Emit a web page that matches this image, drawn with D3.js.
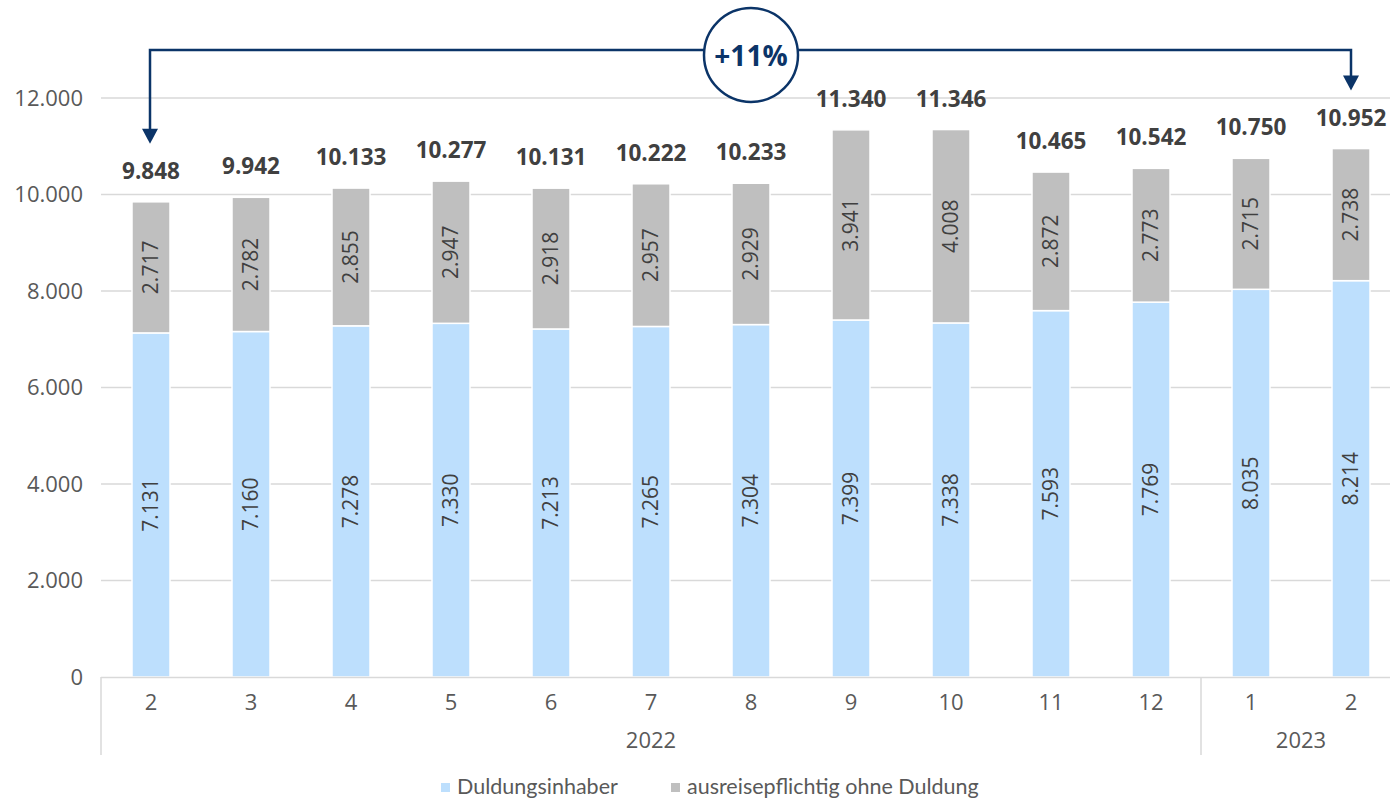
<!DOCTYPE html>
<html><head><meta charset="utf-8">
<script src="https://cdn.jsdelivr.net/npm/d3@7"></script>
<style>html,body{margin:0;padding:0;background:#fff;overflow:hidden}</style>
</head><body><svg id="c" width="1390" height="799"></svg>
<script>
const months = ["2","3","4","5","6","7","8","9","10","11","12","1","2"];
const years = [{label:"2022", from:0, to:10},{label:"2023", from:11, to:12}];
const duldung = [7131,7160,7278,7330,7213,7265,7304,7399,7338,7593,7769,8035,8214];
const ohne = [2717,2782,2855,2947,2918,2957,2929,3941,4008,2872,2773,2715,2738];
const totals = [9848,9942,10133,10277,10131,10222,10233,11340,11346,10465,10542,10750,10952];
const yTicks = [0,2000,4000,6000,8000,10000,12000];
const seriesNames = ["Duldungsinhaber","ausreisepflichtig ohne Duldung"];
const colors = ["#BDDFFD","#BFBFBF"];
const changeLabel = "+11%";

const fmt = v => d3.format(",")(v).replace(/,/g,".");
const svg = d3.select("#c");
const font = "'Open Sans', sans-serif";
const x = d3.scaleBand().domain(d3.range(months.length)).range([101,1401]).paddingInner(0.62).paddingOuter(0.31);
const y = d3.scaleLinear().domain([0,12000]).range([677,98]);

// gridlines
svg.append("g").selectAll("line").data(yTicks.filter(d=>d>0)).join("line")
  .attr("x1",101).attr("x2",1401).attr("y1",d=>y(d)).attr("y2",d=>y(d))
  .attr("stroke","#D9D9D9").attr("stroke-width",1.3);

// y axis labels
const yAxis = d3.axisLeft(y).tickValues(yTicks).tickFormat(fmt).tickSize(0).tickPadding(0);
const ya = svg.append("g").attr("transform","translate(83,0)").call(yAxis);
ya.select(".domain").remove();
ya.selectAll("text").attr("font-family",font).attr("font-size",22).attr("fill","#595959");

// stacked bars
const stackData = months.map((m,i)=>({i, a:duldung[i], b:ohne[i]}));
const stack = d3.stack().keys(["a","b"])(stackData);
stack.forEach((layer,k)=>{
  const g = svg.append("g");
  g.selectAll("rect").data(layer).join("rect")
    .attr("x",d=>x(d.data.i)).attr("width",x.bandwidth())
    .attr("y",d=>y(d[1])).attr("height",d=>y(d[0])-y(d[1]))
    .attr("fill",colors[k]).attr("stroke","#fff").attr("stroke-width",1.5);
  g.selectAll("text").data(layer).join("text")
    .attr("transform",d=>`translate(${x(d.data.i)+x.bandwidth()/2},${(y(d[0])+y(d[1]))/2}) rotate(-90)`)
    .attr("text-anchor","middle").attr("dy","0.35em")
    .attr("font-family",font).attr("font-size",21).attr("fill","#404040")
    .text(d=>fmt(d[1]-d[0]));
});

// totals
svg.append("g").selectAll("text").data(totals).join("text")
  .attr("x",(d,i)=>x(i)+x.bandwidth()/2).attr("y",d=>y(d)-23)
  .attr("text-anchor","middle").attr("font-family",font).attr("font-weight","bold")
  .attr("font-size",22.5).attr("fill","#404040").text(fmt);

// x axis
svg.append("line").attr("x1",101).attr("x2",1401).attr("y1",677.5).attr("y2",677.5).attr("stroke","#D9D9D9").attr("stroke-width",1.5);
const seps = [101, (x(10)+x(11)+x.bandwidth())/2];
svg.append("g").selectAll("line").data(seps).join("line")
  .attr("x1",d=>d).attr("x2",d=>d).attr("y1",677).attr("y2",755)
  .attr("stroke","#D9D9D9").attr("stroke-width",1.5);
svg.append("g").selectAll("text").data(months).join("text")
  .attr("x",(d,i)=>x(i)+x.bandwidth()/2).attr("y",710).attr("text-anchor","middle")
  .attr("font-family",font).attr("font-size",22).attr("fill","#595959").text(d=>d);
svg.append("g").selectAll("text").data(years).join("text")
  .attr("x",d=>(x(d.from)+x(d.to)+x.bandwidth())/2).attr("y",748).attr("text-anchor","middle")
  .attr("font-family",font).attr("font-size",22).attr("fill","#595959").text(d=>d.label);

// legend
const leg = svg.append("g");
const legX = [441, 671];
seriesNames.forEach((n,k)=>{
  leg.append("rect").attr("x",legX[k]).attr("y",783).attr("width",9).attr("height",9).attr("fill",colors[k]);
  leg.append("text").attr("x",legX[k]+16).attr("y",794).attr("font-family","Lato, sans-serif").attr("font-size",21.5)
    .attr("fill","#595959").text(n);
});

// bracket with arrows
const navy = "#0B3468";
const xl = x(0)+x.bandwidth()/2-1, xr = x(12)+x.bandwidth()/2, by = 50;
const tipL = y(totals[0]) - 58, tipR = y(totals[12]) - 58;
svg.append("path").attr("d",`M${xl},${tipL-14}V${by}H${xr}V${tipR-14}`)
  .attr("fill","none").attr("stroke",navy).attr("stroke-width",2.5);
[[xl,tipL],[xr,tipR]].forEach(([ax,ay])=>{
  svg.append("path").attr("d",`M${ax-8},${ay-15}L${ax+8},${ay-15}L${ax},${ay}Z`).attr("fill",navy);
});
svg.append("circle").attr("cx",751).attr("cy",55).attr("r",47).attr("fill","#fff").attr("stroke",navy).attr("stroke-width",2.5);
svg.append("text").attr("x",751).attr("y",56).attr("dy","0.35em").attr("text-anchor","middle")
  .attr("font-family",font).attr("font-weight","bold").attr("font-size",28).attr("fill",navy).text(changeLabel);
</script></body></html>
